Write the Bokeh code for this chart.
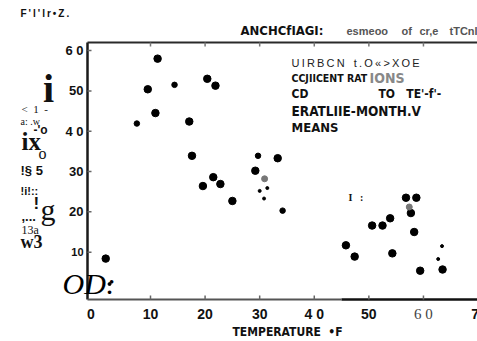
from bokeh.plotting import figure
from bokeh.models import Label, Range1d
from bokeh.embed import file_html
from bokeh.resources import INLINE

# ---- data (temperature °F vs concentration ratio) ----
big_temp = [11.3, 9.5, 20.4, 21.9, 10.9, 17.1, 17.6, 33.3, 29.2, 21.5, 19.6, 22.8, 25.0,
            45.8, 47.4, 50.6, 52.5, 53.9, 56.8, 58.7, 57.7, 58.3, 54.3, 59.4, 63.5, 1.8]
big_conc = [58.0, 50.4, 53.0, 51.3, 44.5, 42.4, 33.9, 33.3, 30.2, 28.6, 26.4, 26.9, 22.7,
            11.7, 8.9, 16.6, 16.6, 18.4, 23.5, 23.5, 19.7, 15.0, 9.7, 5.4, 5.7, 8.4]
mid_temp = [14.4, 7.5, 29.7, 34.2]
mid_conc = [51.5, 41.9, 33.9, 20.3]
small_temp = [31.4, 30.0, 30.8, 63.4, 62.7, 2.5]
small_conc = [25.9, 25.2, 23.3, 11.5, 8.3, 2.1]
faint_temp = [30.9, 57.4]
faint_conc = [28.2, 21.2]

x_ticks = [0, 10, 20, 30, 40, 50, 60, 70]
x_tick_labels = ["0", "10", "20", "30", "4 0", "50", "6 0", "7"]
y_ticks = [10, 20, 30, 40, 50, 60]
y_tick_labels = ["10", "20", "30", "4 0", "50", "6 0"]

# axis box in data units and where it sits on the canvas (pixels)
X0, X1 = -1.54, 69.9
Y0, Y1 = -1.74, 62.0
FX0, FX1, FY0, FY1 = 87, 477, 42, 299
W, H = 477, 341
SX = (X1 - X0) / (FX1 - FX0)
SY = (Y1 - Y0) / (FY1 - FY0)

def dx(px):
    return X0 + (px - FX0) * SX

def dy(py):
    return Y0 + (FY1 - py) * SY

p = figure(width=W, height=H, output_backend="svg", toolbar_location=None,
           x_range=Range1d(dx(0), dx(W)), y_range=Range1d(dy(H), dy(0)),
           x_axis_location=None, y_axis_location=None,
           min_border=0, min_border_left=0, min_border_right=0,
           min_border_top=0, min_border_bottom=0)
p.outline_line_color = None
p.xgrid.visible = False
p.ygrid.visible = False
p.background_fill_color = "white"
p.border_fill_color = "white"

# axis lines
p.line([X0, X0], [Y0, Y1], line_width=2.5, color="#1a1a1a")
p.line([X0, X1], [Y1, Y1], line_width=2.2, color="#2a2a2a")
p.line([X0, 45.0], [Y0, Y0], line_width=2.0, color="#555555")
p.line([45.0, X1], [Y0, Y0], line_width=2.6, color="#111111")

# ticks (inward)
tx = x_ticks[1:-1]
p.segment(x0=tx, y0=[Y0] * len(tx), x1=tx, y1=[Y0 + 4 * SY] * len(tx),
          line_width=1.5, color="#666666")
p.segment(x0=tx, y0=[Y1] * len(tx), x1=tx, y1=[Y1 - 4 * SY] * len(tx),
          line_width=1.5, color="#777777")
p.segment(x0=[X0] * len(y_ticks), y0=y_ticks, x1=[X0 + 4 * SX] * len(y_ticks), y1=y_ticks,
          line_width=1.5, color="#666666")

# points
p.scatter(big_temp, big_conc, size=7.5, color="black")
p.scatter(mid_temp, mid_conc, size=5.5, color="black")
p.scatter(small_temp, small_conc, size=3, color="black")
p.scatter(faint_temp, faint_conc, size=6, color="#777777")

SANS = "Liberation Sans"
NARROW = "'DejaVu Sans Condensed', 'Liberation Sans Narrow', 'Liberation Sans'"
SERIF = "Liberation Serif"
NB = "\u00a0"
TH = "\u2009"

def txt(t, px, py, size, font=SANS, style="bold", color="#111111", align="left"):
    p.add_layout(Label(x=dx(px), y=dy(py), text=t, text_font=font, text_font_style=style,
                       text_font_size=f"{size}px", text_color=color, text_align=align,
                       text_baseline="middle"))

# tick labels
nudge = {0: -5, 70: -3}
for v, lab in zip(x_ticks, x_tick_labels):
    px = FX0 + (v - X0) / SX + nudge.get(v, 0)
    if lab == "6 0":
        txt(lab, px, 313, 15, font=SERIF, style="normal", color="#444444", align="center")
    else:
        txt(lab, px, 313, 14, align="center")
for v, lab in zip(y_ticks, y_tick_labels):
    py = FY1 - (v - Y0) / SY
    txt(lab, 83, py, 11 if lab == "10" else 13, align="right")

txt("OD:", 62, 283, 30, font=SERIF, style="italic", color="#000000")

# titles / captions
txt(TH.join("F'l'lr\u2022Z."), 20, 13, 10)
txt("ANCHCfIAGI:", 240, 30, 13, font=NARROW)
txt("esmeoo", 346, 30, 11, color="#555555")
txt("of", 401, 30, 11, color="#555555")
txt("cr,e", 419, 30, 11, color="#555555")
txt("tTCnl", 449, 30, 11, color="#555555")
txt(TH.join("UIRBCN") + NB * 3 + TH.join("t.O\u00ab>XOE"), 291, 62, 11, style="normal", color="#222222")
txt("CCJIICENT RAT", 291, 77, 10.5, font=NARROW)
txt("IONS", 369, 77, 14, font=NARROW, color="#888888")
txt("CD", 291, 93, 12, font=NARROW)
txt("TO" + NB * 3 + "TE'-f'-", 378, 93, 12, font=NARROW)
txt("ERATLIIE-MONTH.V", 291, 110, 13.5, font=NARROW)
txt("MEANS", 291, 127, 13, font=NARROW)
txt("I" + NB * 3 + ":", 348, 197, 10, font=SERIF)
txt("TEMPERATURE" + NB * 2 + "\u2022F", 232, 331, 12, font=NARROW)

# garbled vertical caption at left
txt("i", 48, 88, 40, font=SERIF, align="center")
txt("<" + NB * 2 + "1" + NB * 2 + "-", 21, 108, 11, font=SERIF, style="normal")
txt("a:" + NB + ".w", 20, 121, 10, font=SERIF, style="normal")
txt("-'o", 33, 129, 12)
txt("ix", 21, 141, 25, font=SERIF)
txt("o", 38, 153, 16, font=SERIF, style="normal")
txt("!\u00a7 5", 20, 170, 13)
txt("!i!::", 20, 190, 11)
txt("!", 33, 203, 17)
txt("g", 40, 209, 30, font=SERIF, style="normal")
txt(",...", 21, 216, 13)
txt("13a", 21, 229, 12, font=SERIF, style="normal")
txt("w3", 20, 241, 18, font=SERIF)

open("out.html", "w").write(file_html(p, INLINE))
